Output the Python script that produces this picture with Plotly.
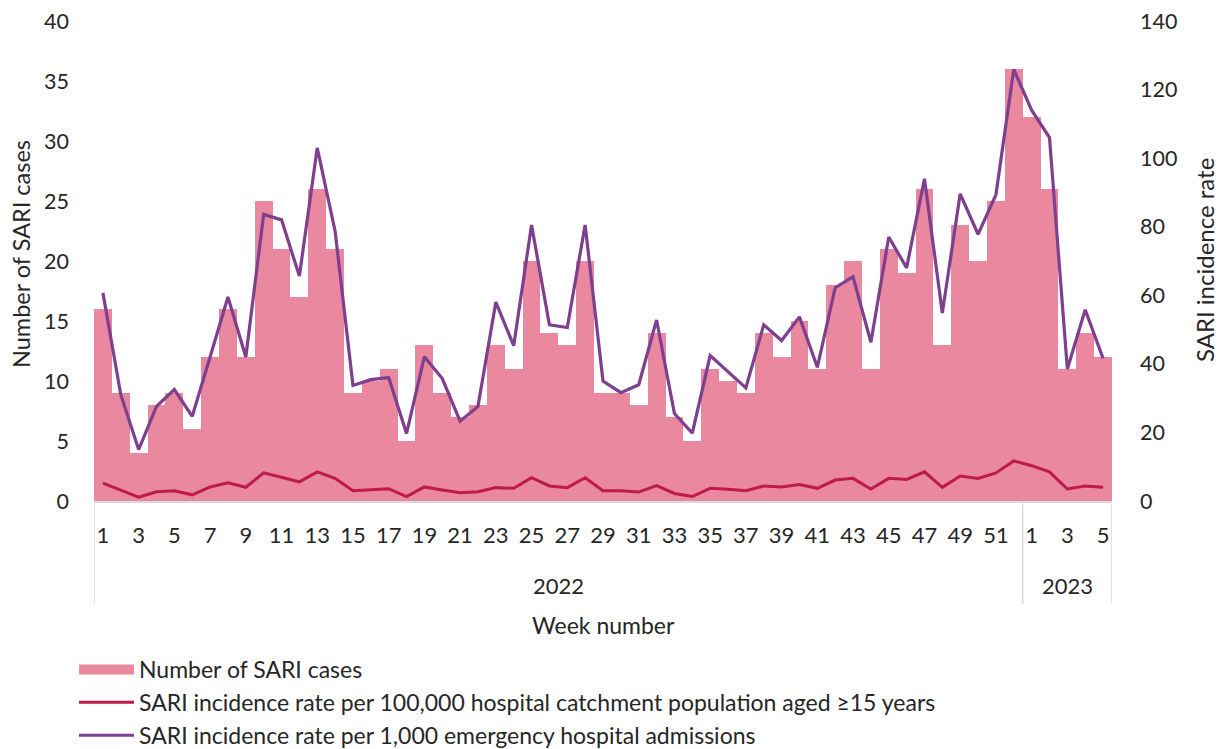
import plotly.graph_objects as go

weeks = list(range(1, 53)) + [1, 2, 3, 4, 5]
years = ["2022"] * 52 + ["2023"] * 5

cases = [16, 9, 4, 8, 9, 6, 12, 16, 12, 25, 21, 17, 26, 21, 9, 10, 11, 5, 13, 9,
         7, 8, 13, 11, 20, 14, 13, 20, 9, 9, 8, 14, 7, 5, 11, 10, 9, 14, 12, 15,
         11, 18, 20, 11, 21, 19, 26, 13, 23, 20, 25, 36, 32, 26, 11, 14, 12]

rate_pop = [5.2, 3.2, 1.1, 2.7, 3.0, 1.8, 4.1, 5.3, 4.0, 8.2, 6.8, 5.6, 8.5, 6.6, 3.0, 3.2,
            3.6, 1.3, 4.1, 3.2, 2.4, 2.7, 3.9, 3.7, 6.8, 4.4, 3.9, 6.8, 3.0, 3.0, 2.6, 4.5,
            2.2, 1.3, 3.7, 3.4, 3.0, 4.4, 4.1, 4.8, 3.7, 6.1, 6.6, 3.5, 6.6, 6.3, 8.5, 4.0,
            7.3, 6.6, 8.2, 11.7, 10.3, 8.5, 3.5, 4.4, 4.0]

rate_adm = [60.7, 31, 15, 27.6, 32.5, 24.7, 42, 59.5, 42, 83.6, 82, 65.6, 103, 78.7, 33.7,
            35.4, 36, 19.7, 42.1, 35.7, 23.3, 27.6, 58, 45.3, 80.5, 51.4, 50.6, 80.5, 35,
            31.6, 33.9, 52.8, 25.5, 19.8, 42.4, 37.8, 33, 51.4, 46.8, 53.7, 39, 62.2, 65.4,
            46.3, 77, 68, 94, 54.8, 89.6, 77.8, 89.3, 125.9, 114, 106, 38.5, 55.8, 41.6]

left_ticks = [0, 5, 10, 15, 20, 25, 30, 35, 40]
right_ticks = [0, 20, 40, 60, 80, 100, 120, 140]

idx = list(range(len(weeks)))
tickvals = [i for i in idx if weeks[i] % 2 == 1]
ticktext = [str(weeks[i]) for i in tickvals]

FONT = "Lato"
TXT = "#262626"
GRID = "#d9d9d9"
BAR = "#E9889F"

# page body has an 8px margin: size the figure to fill the rest of the window
OFF = 8
W, H = 1223 - OFF, 749 - OFF
# plot area in window pixels
PX0, PX1, PY0, PY1 = 94, 1112, 21, 501
L, R, T, B = PX0 - OFF, (W + OFF) - PX1, PY0 - OFF, (H + OFF) - PY1
PW, PH = PX1 - PX0, PY1 - PY0


def py(v):  # window pixel y -> paper coordinate
    return (PY1 - v) / PH


def px(v):  # window pixel x -> paper coordinate
    return (v - PX0) / PW


fig = go.Figure()
fig.add_trace(go.Bar(x=idx, y=cases, name="Number of SARI cases", showlegend=False,
                     marker=dict(color=BAR, line=dict(width=0)), yaxis="y"))
# legend proxy drawn as a wide band like the reference
fig.add_trace(go.Scatter(x=[None], y=[None], mode="lines", name="Number of SARI cases",
                         line=dict(color=BAR, width=18), yaxis="y"))
fig.add_trace(go.Scatter(x=idx, y=rate_pop, mode="lines",
                         name="SARI incidence rate per 100,000 hospital catchment population aged ≥15 years",
                         line=dict(color="#BE1A4A", width=3), yaxis="y2"))
fig.add_trace(go.Scatter(x=idx, y=rate_adm, mode="lines",
                         name="SARI incidence rate per 1,000 emergency hospital admissions",
                         line=dict(color="#7E3F8E", width=3.2), yaxis="y2"))

shapes = []
annotations = []
year_names = []
for y in years:
    if y not in year_names:
        year_names.append(y)
bounds = []
for yn in year_names:
    ids = [i for i in idx if years[i] == yn]
    bounds.append((ids[0] - 0.5, ids[-1] + 0.5))
    annotations.append(dict(x=(ids[0] + ids[-1]) / 2, y=py(585), xref="x", yref="paper",
                            text=yn, showarrow=False, font=dict(size=22, color=TXT, family=FONT),
                            yanchor="middle"))
edges = sorted(set([b[0] for b in bounds] + [b[1] for b in bounds]))
for e in edges:
    shapes.append(dict(type="line", xref="x", yref="paper", x0=e, x1=e, y0=0, y1=py(604),
                       line=dict(color=GRID, width=1.5)))

annotations.append(dict(x=0.5, y=py(625), xref="paper", yref="paper", text="Week number",
                        showarrow=False, font=dict(size=23, color=TXT, family=FONT), yanchor="middle"))
annotations.append(dict(x=px(21), y=py(254), xref="paper", yref="paper",
                        xanchor="center", yanchor="middle",
                        text="Number of SARI cases", textangle=-90, showarrow=False,
                        font=dict(size=23.5, color=TXT, family=FONT)))
annotations.append(dict(x=px(1204), y=py(260), xref="paper", yref="paper",
                        xanchor="center", yanchor="middle", text="SARI incidence rate",
                        textangle=-90, showarrow=False, font=dict(size=24, color=TXT, family=FONT)))

fig.update_layout(
    width=W, height=H,
    margin=dict(l=L, r=R, t=T, b=B, autoexpand=False),
    paper_bgcolor="white", plot_bgcolor="white",
    bargap=0,
    font=dict(family=FONT, size=22, color=TXT),
    xaxis=dict(range=[-0.5, len(idx) - 0.5], tickmode="array", tickvals=tickvals, ticktext=ticktext,
               showgrid=False, zeroline=False, showline=True, linecolor=GRID, linewidth=1.5,
               ticks="", ticklabelstandoff=14, tickfont=dict(size=22), automargin=False,
               ticklabeloverflow="allow"),
    yaxis=dict(range=[0, 40], tickmode="array", tickvals=left_ticks,
               showgrid=False, zeroline=False, ticks="",
               ticklabelstandoff=24, tickfont=dict(size=21.5), automargin=False,
               ticklabeloverflow="allow"),
    yaxis2=dict(range=[0, 140], tickmode="array", tickvals=right_ticks,
                overlaying="y", side="right", showgrid=False,
                zeroline=False, ticks="", ticklabelstandoff=27, tickfont=dict(size=21.5),
                automargin=False, ticklabeloverflow="allow"),
    legend=dict(x=(74 - OFF) / W, y=1 - (648 - OFF) / H, xref="container", yref="container",
                xanchor="left", yanchor="top", orientation="v",
                font=dict(size=23, color=TXT), tracegroupgap=0, itemwidth=55,
                bgcolor="rgba(0,0,0,0)"),
    shapes=shapes, annotations=annotations,
)

fig.write_html("out.html")
